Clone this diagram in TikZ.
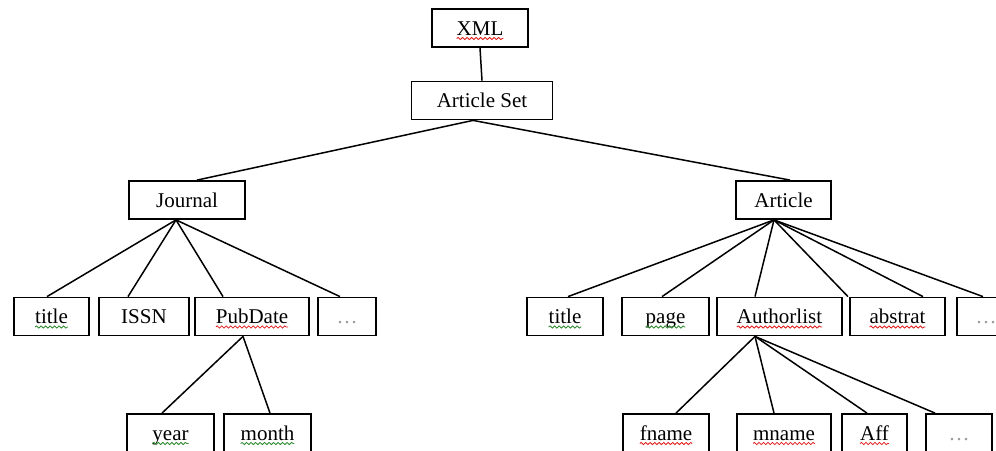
\documentclass[tikz,border=0pt]{standalone}
\usepackage{fontspec}
\setmainfont{Liberation Serif}
\usepackage{xcolor,tikz}
\usetikzlibrary{decorations.pathmorphing}
\definecolor{spred}{HTML}{E01818}
\definecolor{spgreen}{HTML}{2E8B2E}
\definecolor{dotgray}{HTML}{9A9A9A}
\newcommand{\spell}[2]{\tikz[baseline=(w.base)]{\node[inner sep=0pt,outer sep=0pt,minimum width=0pt,minimum height=0pt,text height=,text depth=,draw=none] (w) {#2};\draw[#1,line width=.8pt,decorate,decoration={snake,amplitude=1.1pt,segment length=4.5pt}] ([yshift=-3.5pt]w.base west)--([yshift=-3.5pt]w.base east);}}
\newcommand{\more}{\textcolor{dotgray}{\ldots}}

\begin{document}
\begin{tikzpicture}[x=1pt,y=-1pt,box/.style={draw,line width=1.8pt,minimum height=38pt,inner sep=0pt,text height=17pt,text depth=3pt,font=\fontsize{21}{25}\selectfont},link/.style={line width=1.5pt}]
\useasboundingbox (0,0) rectangle (996,450);
% top of the tree
\node[box,minimum width=96pt] (xml) at (480,28) {\spell{spred}{XML}};
\node[box,minimum width=141pt] (aset) at (482,100.5) {Article Set};
\node[box,minimum width=116pt] (journal) at (187,200) {Journal};
\node[box,minimum width=95pt] (article) at (783.5,200) {Article};
\draw[link] (xml.south)--(aset.north);
\draw[link] ([xshift=-9pt]aset.south)--([xshift=10pt]journal.north);
\draw[link] ([xshift=-9pt]aset.south)--([xshift=6.5pt]article.north);
% second level
\foreach \n/\x/\w/\t in {titleL/51.5/75/{\spell{spgreen}{title}},issn/144/90/ISSN,pubdate/252/114/{\spell{spred}{PubDate}},dotsL/347/58/\more,titleR/565/76/{\spell{spgreen}{title}},page/665.5/87/{\spell{spgreen}{page}},authorlist/779.5/125/{\spell{spred}{Authorlist}},abstrat/897.5/95/{\spell{spred}{abstrat}},dotsR/986/58/\more}{\node[box,minimum width=\w pt] (\n) at (\x,316.5) {\t};}
% third level
\foreach \n/\x/\w/\t in {year/170.5/87/{\spell{spgreen}{year}},month/267.5/87/{\spell{spgreen}{month}},fname/666/86/{\spell{spred}{fname}},mname/784/94/{\spell{spred}{mname}},aff/874.5/65/{\spell{spred}{Aff}},dotsA/959/66/\more}{\node[box,minimum width=\w pt] (\n) at (\x,433) {\t};}
\foreach \n/\s in {titleL/-4.5,issn/-16,pubdate/-29,dotsL/-7}{\draw[link] ([xshift=-11pt]journal.south)--([xshift=\s pt]\n.north);}
\foreach \n/\s in {titleR/3,page/-3.5,authorlist/-24.5,abstrat/-49.5,abstrat/25.5,dotsR/-3}{\draw[link] ([xshift=-9.5pt]article.south)--([xshift=\s pt]\n.north);}
\foreach \n/\s in {year/-8.5,month/2.5}{\draw[link] ([xshift=-9pt]pubdate.south)--([xshift=\s pt]\n.north);}
\foreach \n/\s in {fname/10,mname/-10,aff/-7.5,dotsA/-24}{\draw[link] ([xshift=-24.5pt]authorlist.south)--([xshift=\s pt]\n.north);}
\end{tikzpicture}
\end{document}
